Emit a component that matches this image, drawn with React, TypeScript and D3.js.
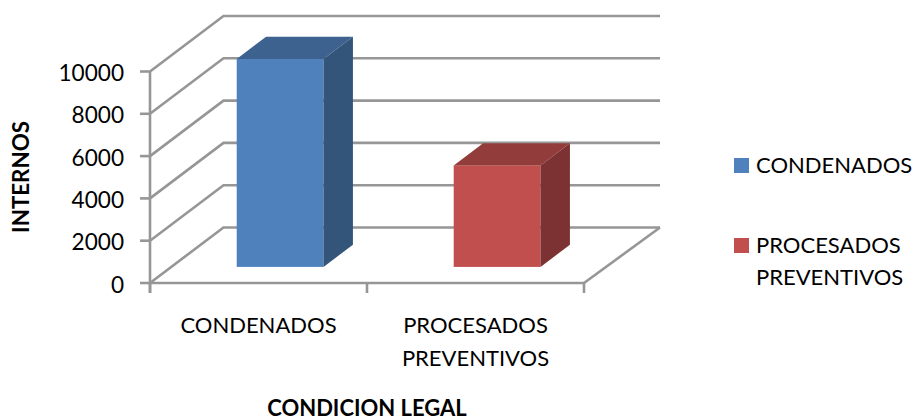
import React from "react";
import * as d3 from "d3";

const categories = ["CONDENADOS", "PROCESADOS PREVENTIVOS"];
const categoryLines = [["CONDENADOS"], ["PROCESADOS", "PREVENTIVOS"]];
const values = [9835, 4800];
const yTicks = [0, 2000, 4000, 6000, 8000, 10000];
const frontColors = ["#4F81BD", "#C0504D"];
const topColors = ["#3C6290", "#923E3B"];
const sideColors = ["#325479", "#7B3230"];
const legendLines = [["CONDENADOS"], ["PROCESADOS", "PREVENTIVOS"]];

const FONT = "Lato, Carlito, 'Open Sans', sans-serif";
const GRID = "#969696";

const y = d3.scaleLinear().domain([0, 10000]).range([283, 71.5]);
const x = d3.scaleBand<string>().domain(categories).range([150, 584]).paddingInner(0).paddingOuter(0);
const DX = 73.5;
const DY = -55.5;
const BAR_FRAC = 0.4;
const D0 = 0.29;
const D1 = 0.69;

const poly = (pts: [number, number][]) => pts.map((p) => p.join(",")).join(" ");

export default function App() {
  const bw = x.bandwidth() * BAR_FRAC;
  return (
    <svg width={914} height={420} style={{ position: "absolute", left: 0, top: 0, background: "#fff" }} fontFamily={FONT}>
      <defs>
        <filter id="soft" x="-5%" y="-5%" width="110%" height="110%">
          <feGaussianBlur stdDeviation="0.45" />
        </filter>
      </defs>
      <g filter="url(#soft)">
        {yTicks.map((t) => (
          <g key={t}>
            <polyline
              points={poly([[x.range()[0], y(t)], [x.range()[0] + DX, y(t) + DY], [660, y(t) + DY]])}
              fill="none" stroke={GRID} strokeWidth={2.6}
            />
            <line x1={140} x2={150} y1={y(t)} y2={y(t)} stroke={GRID} strokeWidth={2.6} />
          </g>
        ))}
        <line x1={150} x2={150} y1={y(10000)} y2={293} stroke={GRID} strokeWidth={2.6} />
        <line x1={150} x2={584} y1={y(0)} y2={y(0)} stroke={GRID} strokeWidth={2.6} />
        <line x1={584} x2={660} y1={y(0)} y2={y(0) + DY} stroke={GRID} strokeWidth={2.6} />
        {[150, 367, 584].map((tx) => (
          <line key={tx} x1={tx} x2={tx} y1={283} y2={293} stroke={GRID} strokeWidth={2.6} />
        ))}
        {categories.map((c, i) => {
          const cx = (x(c) as number) + x.bandwidth() / 2;
          const x0 = cx - bw / 2 + D0 * DX + 0.3;
          const x1 = x0 + bw;
          const base = y(0) + D0 * DY;
          const top = base - (y(0) - y(values[i]));
          const ox = (D1 - D0) * DX;
          const oy = (D1 - D0) * DY;
          return (
            <g key={c}>
              <rect x={x0} y={top} width={bw} height={base - top} fill={frontColors[i]} />
              <polygon points={poly([[x0, top], [x0 + ox, top + oy], [x1 + ox, top + oy], [x1, top]])} fill={topColors[i]} />
              <polygon points={poly([[x1, top], [x1 + ox, top + oy], [x1 + ox, base + oy], [x1, base]])} fill={sideColors[i]} />
            </g>
          );
        })}
        <rect x={734} y={158} width={15} height={15} fill={frontColors[0]} />
        <rect x={734} y={238} width={15} height={15} fill={frontColors[1]} />
      </g>
      <g fontSize={22} fill="#000">
        {yTicks.map((t) => (
          <text key={t} x={124} y={y(t) + 9.5} textAnchor="end" fontSize={22.6}>{t}</text>
        ))}
        {categories.map((c, i) => {
          const cx = (x(c) as number) + x.bandwidth() / 2;
          return categoryLines[i].map((l, j) => (
            <text key={l} x={cx} y={333 + j * 33} textAnchor="middle">{l}</text>
          ));
        })}
        {legendLines[0].map((l) => (
          <text key={l} x={756} y={173}>{l}</text>
        ))}
        {legendLines[1].map((l, j) => (
          <text key={l} x={756} y={253 + j * 32}>{l}</text>
        ))}
      </g>
      <text x={367} y={415.5} textAnchor="middle" fontSize={22} fontWeight={700}>CONDICION LEGAL</text>
      <text transform="translate(29,177) rotate(-90)" textAnchor="middle" fontSize={22.3} fontWeight={700}>INTERNOS</text>
    </svg>
  );
}
